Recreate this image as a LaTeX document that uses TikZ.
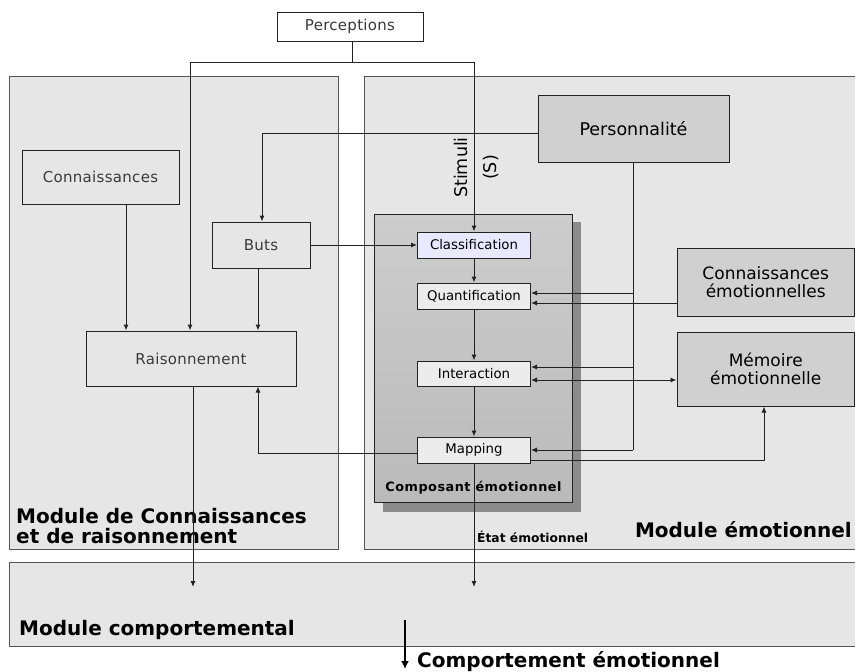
\documentclass[tikz,border=0pt]{standalone}
\usepackage{fontspec}
\setmainfont{DejaVu Sans}
\newfontfamily\thinfont[LetterSpace=2]{DejaVu Sans}
\usetikzlibrary{arrows.meta,calc}
\definecolor{modfill}{HTML}{E6E6E6}
\definecolor{modline}{HTML}{555555}
\definecolor{linec}{HTML}{222222}
\definecolor{thintext}{HTML}{3A3A3A}
\definecolor{darkfill}{HTML}{D0D0D0}
\definecolor{innerfill}{HTML}{ECECEC}
\definecolor{classfill}{HTML}{E8E8FF}
\definecolor{shadowc}{HTML}{8C8C8C}
\definecolor{compTop}{HTML}{CDCDCD}
\definecolor{compBot}{HTML}{BABABA}
\tikzset{
 module/.style={draw=modline, fill=modfill, line width=1pt, inner sep=0},
 lbox/.style={draw=linec, fill=modfill, line width=1pt, inner sep=0, text=thintext, font=\thinfont\fontsize{15}{18}\selectfont},
 dbox/.style={draw=linec, fill=darkfill, line width=1pt, inner sep=0, align=center, font=\fontsize{17}{18.5}\selectfont},
 ibox/.style={draw=linec, fill=innerfill, line width=1pt, inner sep=0, minimum width=113pt, minimum height=26pt, font=\fontsize{13.3}{15}\selectfont},
 conn/.style={draw=linec, line width=1pt},
 arr/.style={conn, -{Latex[length=6pt,width=5pt]}},
 darr/.style={conn, {Latex[length=6pt,width=5pt]}-{Latex[length=6pt,width=5pt]}},
 bigtext/.style={font=\bfseries\fontsize{20}{20}\selectfont, inner sep=0},
}
\begin{document}
\begin{tikzpicture}[x=1pt,y=-1pt]
\useasboundingbox (0,0) rectangle (855,672);
% modules
\node[module, minimum width=329pt, minimum height=473pt] (modL) at (173.5,312.5) {};
\node[module, minimum width=491pt, minimum height=473pt] (modR) at (609.5,312.5) {};
\node[module, minimum width=846pt, minimum height=84pt] (modB) at (432,604) {};
% composant
\fill[shadowc] (383,222) rectangle (581,512);
\node[draw=linec, line width=1pt, top color=compTop, bottom color=compBot, minimum width=198pt, minimum height=288pt, inner sep=0] (comp) at (473,358) {};
% boxes
\node[draw=linec, fill=white, line width=1pt, inner sep=0, minimum width=146pt, minimum height=29pt, text=thintext, font=\thinfont\fontsize{15}{18}\selectfont] (percep) at (350,26.5) {Perceptions};
\node[lbox, minimum width=157pt, minimum height=54pt] (conn) at (100.5,177) {Connaissances};
\node[lbox, minimum width=98pt, minimum height=46pt] (buts) at (261,245) {Buts};
\node[lbox, minimum width=210pt, minimum height=55pt] (rais) at (191,358.5) {Raisonnement};
\node[dbox, minimum width=191pt, minimum height=67pt, font=\fontsize{17.5}{19}\selectfont] (pers) at (633.5,128.5) {Personnalité};
\node[dbox, minimum width=177.5pt, minimum height=68pt] (ce) at (765.75,282) {Connaissances\\émotionnelles};
\node[dbox, minimum width=177.5pt, minimum height=74pt] (mem) at (765.75,369) {Mémoire\\émotionnelle};
\node[ibox, fill=classfill] (class) at (474,245) {Classification};
\node[ibox] (quant) at (474,296) {Quantification};
\node[ibox, minimum height=25pt] (inter) at (474,373.5) {Interaction};
\node[ibox] (map) at (474,450) {Mapping};
% labels
\node[bigtext, anchor=north west, align=left] (lblL) at (16,508.5) {Module de Connaissances\\et de raisonnement};
\node[bigtext, anchor=base east] (lblR) at (852,537) {Module émotionnel};
\node[bigtext, anchor=base west] (lblB) at (19,635) {Module comportemental};
\node[bigtext, anchor=base west] (lblC) at (417,667) {Comportement émotionnel};
\node[font=\bfseries\fontsize{12.8}{14}\selectfont\addfontfeature{LetterSpace=4}, anchor=base, inner sep=0] (lblComp) at (473.5,491) {Composant émotionnel};
\node[font=\bfseries\fontsize{12.3}{14}\selectfont, anchor=base west, inner sep=0] (lblEtat) at (477,542) {État émotionnel};
\node[rotate=90, align=center, inner sep=0, font=\fontsize{17.5}{29}\selectfont] (stim) at (477,167.5) {Stimuli\\(S)};
% connectors
\coordinate (jc) at (352,62);
\coordinate (jl) at (190,62);
\coordinate (jr) at (474,62);
\draw[conn] (jc |- percep.south) -- (jc);
\draw[arr] (jc) -- (jl) -- (jl |- rais.north);
\draw[arr] (jc) -- (jr) -- (class.north);
\coordinate (xk) at (126,0);
\draw[arr] (conn.south -| xk) -- (rais.north -| xk);
\coordinate (xb) at (258,0);
\draw[arr] (buts.south -| xb) -- (rais.north -| xb);
\coordinate (pb) at (262,133);
\draw[arr] (pers.west |- pb) -- (pb) -- (pb |- buts.north);
\draw[arr] (buts.east) -- (class.west);
\draw[arr] (class) -- (quant);
\draw[arr] (quant) -- (inter);
\draw[arr] (inter) -- (map);
\coordinate (pv) at (633,450);
\draw[conn] (pers.south -| pv) -- (pv);
\coordinate (q1) at (633,293);
\draw[arr] (q1) -- (quant.east |- q1);
\coordinate (q2) at (677,303);
\draw[arr] (ce.west |- q2) -- (quant.east |- q2);
\coordinate (i1) at (633,367);
\draw[arr] (i1) -- (inter.east |- i1);
\coordinate (i2) at (677,380);
\draw[darr] (inter.east |- i2) -- (mem.west |- i2);
\draw[arr] (pv) -- (map.east |- pv);
\coordinate (m1) at (764,460);
\draw[arr] (map.east |- m1) -- (m1) -- (m1 |- mem.south);
\coordinate (m2) at (258,453);
\draw[arr] (map.west |- m2) -- (m2) -- (m2 |- rais.south);
\coordinate (r1) at (193,587);
\draw[arr] (rais.south -| r1) -- (r1);
\coordinate (e1) at (474,587);
\draw[arr] (map.south) -- (e1);
\coordinate (ba1) at (405,620);
\coordinate (ba2) at (405,669);
\draw[line width=2.2pt, -{Latex[length=8pt,width=8pt]}] (ba1) -- (ba2);
\end{tikzpicture}
\end{document}
